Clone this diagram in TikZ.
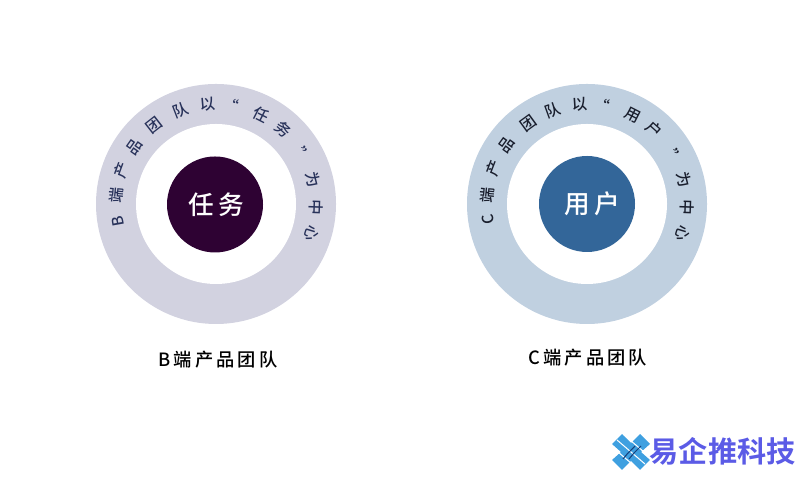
\documentclass[tikz,border=0pt]{standalone}
\usepackage{xcolor}
\usepackage{fontspec}
\setmainfont[BoldFont={Noto Sans CJK SC Bold}]{Noto Sans CJK SC}
\newfontfamily\medfont{Noto Sans CJK SC Medium}
\usepackage{tikz}
\usetikzlibrary{positioning, calc}

\definecolor{ringa}{HTML}{D2D2E0}
\definecolor{ringb}{HTML}{C0D0E0}
\definecolor{corea}{HTML}{2E0233}
\definecolor{coreb}{HTML}{336699}
\definecolor{inka}{HTML}{28325A}
\definecolor{inkb}{HTML}{191E2D}
\definecolor{logoblue}{HTML}{5B5BE6}
\definecolor{logosky}{HTML}{3FA0E0}
\definecolor{logonavy}{HTML}{17407A}
\tikzset{
	ringfill/.style={circle, inner sep=0pt, minimum size=2.4cm, fill=#1},
	holefill/.style={circle, inner sep=0pt, minimum size=1.6cm, fill=white},
	corefill/.style={circle, inner sep=0pt, minimum size=0.96cm, fill=#1, text=white, font=\fontsize{7.3pt}{9pt}\medfont},
	arcletter/.style={inner sep=0pt, text=#1, font=\fontsize{4.4pt}{5pt}\medfont},
	teamlabel/.style={inner sep=0pt, text=black, font=\fontsize{5.2pt}{6pt}\medfont},
	logotext/.style={inner sep=0pt, text=logoblue, font=\fontsize{8.3pt}{9pt}\selectfont\bfseries}
}

\begin{document}
\begin{tikzpicture}
	\useasboundingbox (0,0) rectangle (8,4.8);
	
	\node[ringfill=ringa] (ringA) at (2.16,2.76) {};
	\node[holefill] (holeA) at (ringA) {};
	\node[corefill=corea] (coreA) at (2.15,2.755) {\hspace*{0.03cm}任\,务};
	
	\node[ringfill=ringb] (ringB) at (5.87,2.76) {};
	\node[holefill] (holeB) at (ringB) {};
	\node[corefill=coreb] (coreB) at (ringB) {\hspace*{0.1cm}用\,户};
	
	\foreach \a/\c in {190/B, 175/端, 160/产, 145/品, 128/团, 111/队, 95/以, 81/“, 63/任, 48/务, 29/”, 14/为, -2/中, -17/心}
	\node[arcletter=inka, rotate=\a-90] (letA\a) at ($(ringA)+(\a:1)$) {\c};
	
	\foreach \a/\c in {189/C, 175/端, 159/产, 144/品, 126/团, 110/队, 94/以, 81/“, 63/用, 48/户, 28/”, 14/为, -2/中, -17/心}
	\node[arcletter=inkb, rotate=\a-90] (letB\a) at ($(ringB)+(\a:1)$) {\c};
	
	\node[teamlabel] (teamA) at (2.18,1.2) {B\,端\,产\,品\,团\,队};
	\node[teamlabel] (teamB) at (5.88,1.22) {C\,端\,产\,品\,团\,队};
	
	\begin{scope}[shift={(6.31,0.28)}, x=0.01cm, y=0.01cm]
	\fill[logosky] (-19,8) -- (-9,18) -- (0,9) -- (9,18) -- (19,8) -- (10,0) -- (19,-8) -- (9,-18) -- (0,-9) -- (-9,-18) -- (-19,-8) -- (-10,0) -- cycle;
	\foreach \x in {-6, 0, 6}
	\draw[white, line width=0.3pt] (-14+\x,12+\x) -- (14+\x,-12+\x);
	\foreach \x in {-3, 3}
	\draw[logonavy, line width=0.3pt] (-5+\x,-7) -- (\x,-1) -- (7+\x,6);
	\end{scope}
	
	\node[logotext, anchor=west] (logo) at (6.49,0.29) {易企推科技};
\end{tikzpicture}
\end{document}
